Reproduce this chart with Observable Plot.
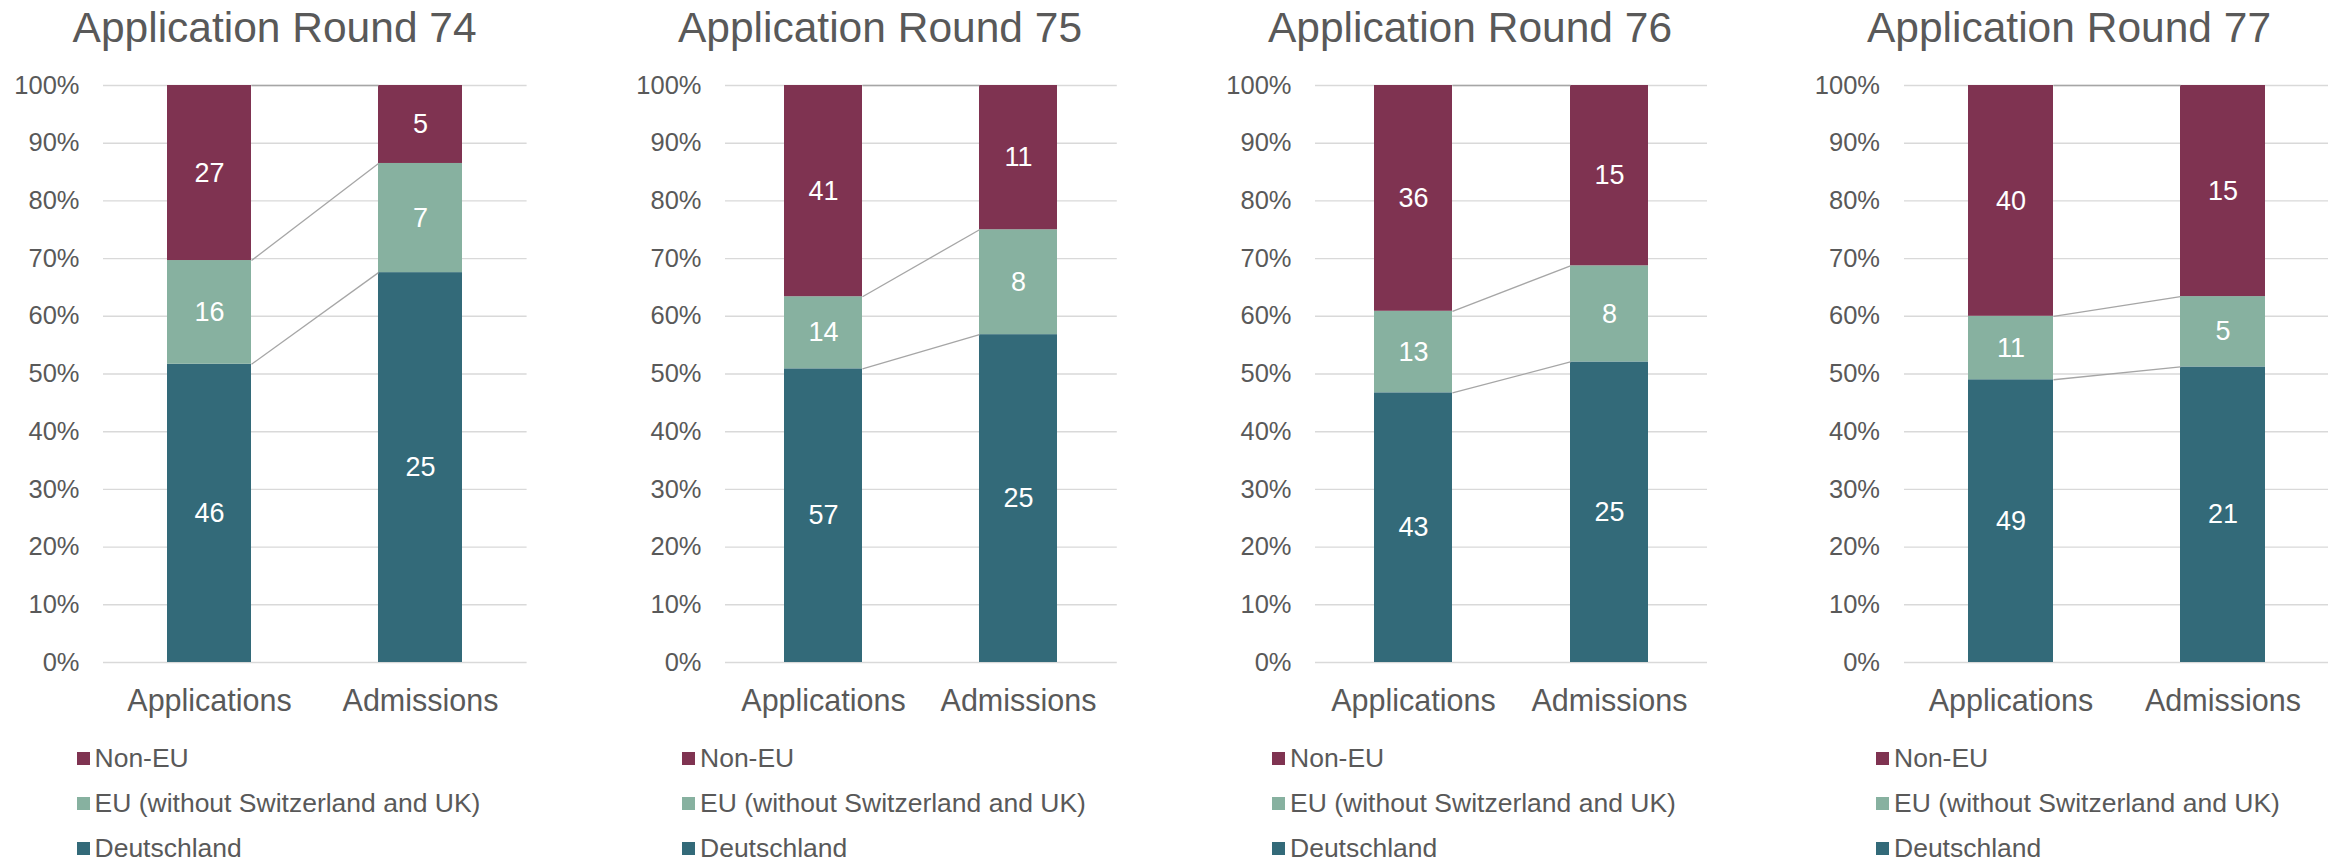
<!DOCTYPE html>
<html>
<head>
<meta charset="utf-8">
<script src="https://cdn.jsdelivr.net/npm/d3@7"></script>
<script src="https://cdn.jsdelivr.net/npm/@observablehq/plot@0.6"></script>
<style>
  body { margin: 0; background: #fff; font-family: "Liberation Sans", Arial, sans-serif; }
  #root { position: relative; width: 2338px; height: 865px; overflow: hidden; background: #fff; }
  .title { position: absolute; font-size: 42.5px; line-height: 42.5px; color: #595959; white-space: nowrap; transform: translateX(-50%); }
  .lrow { position: absolute; height: 26px; font-size: 26.5px; line-height: 26px; color: #595959; white-space: nowrap; display: flex; align-items: center; }
  .sw { width: 13px; height: 13px; margin-right: 5px; flex: none; }
  .panel { position: absolute; }
  .panel svg { overflow: visible; }
</style>
</head>
<body>
<div id="root"></div>
<script>
// ---- data ----
const rounds = ["Application Round 74", "Application Round 75", "Application Round 76", "Application Round 77"];
const categories = ["Applications", "Admissions"];
const series = ["Deutschland", "EU (without Switzerland and UK)", "Non-EU"];
const seriesColors = ["#336A79", "#87B1A0", "#7F3351"];
// values per round: [Applications, Admissions]
const deutschland = [[46, 25], [57, 25], [43, 25], [49, 21]];
const euValues    = [[16, 7],  [14, 8],  [13, 8],  [11, 5]];
const nonEuValues = [[27, 5],  [41, 11], [36, 15], [40, 15]];
const yTicks = [0, 0.1, 0.2, 0.3, 0.4, 0.5, 0.6, 0.7, 0.8, 0.9, 1];

// ---- layout (page pixels) ----
const layout = [
  { gridStart: 102.6, gridEnd: 526.2,  titleX: 274.6, legendX: 76.5, tickGap: 24 },
  { gridStart: 724.7, gridEnd: 1116.5, titleX: 880,   legendX: 682,  tickGap: 24 },
  { gridStart: 1315,  gridEnd: 1707,   titleX: 1470,  legendX: 1272, tickGap: 24 },
  { gridStart: 1904,  gridEnd: 2328,   titleX: 2069,  legendX: 1876, tickGap: 24.5 }
];
const svgTop = 60, mT = 25, plotH = 577, mB = 90, mL = 110, mR = 10;
const legendRows = [758, 803, 848];

const root = document.getElementById("root");
const seriesData = [deutschland, euValues, nonEuValues];

rounds.forEach((round, i) => {
  const L = layout[i];
  const rows = [];
  categories.forEach((c, j) => series.forEach((s, k) => rows.push({ category: c, series: s, value: seriesData[k][i][j] })));

  // connector lines: cumulative share at top of each series
  const links = series.map((s, k) => {
    const cum = categories.map((c, j) => {
      const tot = d3.sum(seriesData, d => d[i][j]);
      return d3.sum(seriesData.slice(0, k + 1), d => d[i][j]) / tot;
    });
    return { y1: cum[0], y2: cum[1] };
  });

  const width = mL + (L.gridEnd - L.gridStart) + mR;
  const stackOpts = { x: "category", y: "value", z: "series", order: series, offset: "normalize" };

  const chart = Plot.plot({
    width,
    height: mT + plotH + mB,
    marginLeft: mL, marginRight: mR, marginTop: mT, marginBottom: mB,
    style: { fontFamily: "'Liberation Sans', Arial, sans-serif", background: "transparent", overflow: "visible" },
    x: { domain: categories, paddingInner: 0.6, paddingOuter: 0.3, align: 0.5 },
    y: { domain: [0, 1] },
    color: { domain: series, range: seriesColors },
    marks: [
      Plot.gridY(yTicks, { stroke: "#d9d9d9", strokeOpacity: 1, strokeWidth: 1.4 }),
      Plot.axisY({ ticks: yTicks, tickFormat: d3.format(".0%"), tickSize: 0, tickPadding: L.tickGap, fontSize: 25.5, fill: "#595959", label: null }),
      Plot.axisX({ tickSize: 0, tickPadding: 27, fontSize: 30.5, fill: "#595959", label: null }),
      Plot.barY(rows, Plot.stackY({ ...stackOpts, fill: "series" })),
      Plot.link(links, {
        x1: () => categories[0], x2: () => categories[1], y1: "y1", y2: "y2",
        stroke: "#a6a6a6", strokeWidth: 1.3, strokeOpacity: 1,
        render(index, scales, values, dims, context, next) {
          const hb = scales.x.bandwidth() / 2;
          const X1 = Array.from(values.x1, v => v + hb);
          const X2 = Array.from(values.x2, v => v - hb);
          return next(index, scales, { ...values, x1: X1, x2: X2 }, dims, context);
        }
      }),
      Plot.text(rows, Plot.stackY({ ...stackOpts, text: "value", fill: "white", fontSize: 27 }))
    ]
  });

  const panel = document.createElement("div");
  panel.className = "panel";
  panel.style.left = (L.gridStart - mL) + "px";
  panel.style.top = svgTop + "px";
  panel.appendChild(chart);
  root.appendChild(panel);

  const title = document.createElement("div");
  title.className = "title";
  title.textContent = round;
  title.style.left = L.titleX + "px";
  title.style.top = "6.5px";
  root.appendChild(title);

  // legend: Non-EU, EU, Deutschland (top to bottom)
  [...series].reverse().forEach((s, r) => {
    const row = document.createElement("div");
    row.className = "lrow";
    row.style.left = L.legendX + "px";
    row.style.top = (legendRows[r] - 13) + "px";
    const sw = document.createElement("div");
    sw.className = "sw";
    sw.style.background = seriesColors[series.indexOf(s)];
    const tx = document.createElement("span");
    tx.textContent = s;
    row.appendChild(sw);
    row.appendChild(tx);
    root.appendChild(row);
  });
});
</script>
</body>
</html>
